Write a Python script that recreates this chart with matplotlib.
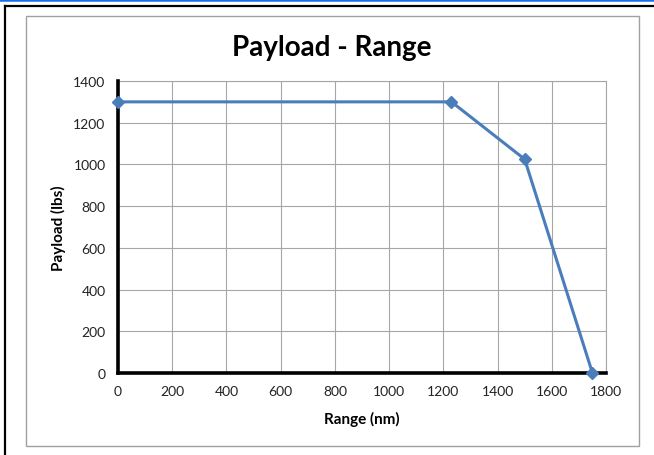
import matplotlib.pyplot as plt
from matplotlib.lines import Line2D
from matplotlib.patches import Rectangle

plt.rcParams["font.family"] = ["Lato", "DejaVu Sans"]

ranges = [0, 1230, 1500, 1750]  # nm
payloads = [1300, 1300, 1025, 0]  # lbs
x_ticks = [0, 200, 400, 600, 800, 1000, 1200, 1400, 1600, 1800]
y_ticks = [0, 200, 400, 600, 800, 1000, 1200, 1400]

W, H = 654, 456
fig = plt.figure(figsize=(W / 100, H / 100), dpi=100)
ax = fig.add_axes([118 / W, 1 - 374 / H, (606 - 118) / W, (374 - 82) / H])

# outer decorations: blue strip, black frame, grey chart frame
fig.add_artist(Line2D([0, 1], [1 - 1 / H, 1 - 1 / H], color="#1a6cf0", lw=1.8,
                      transform=fig.transFigure))
fig.add_artist(Line2D([5 / W, 1], [1 - 7 / H, 1 - 7 / H], color="black", lw=1.6,
                      transform=fig.transFigure))
fig.add_artist(Line2D([5 / W, 5 / W], [0, 1 - 7 / H], color="black", lw=1.6,
                      transform=fig.transFigure))
fig.add_artist(Rectangle((26 / W, 1 - 447 / H), (639 - 26) / W, (447 - 17) / H,
                         fill=False, edgecolor="#a0a0a0", lw=1.0,
                         transform=fig.transFigure))

ax.plot(ranges, payloads, color="#4a7ebb", lw=2.2, marker="D", markersize=6.5,
        clip_on=False, zorder=5)

ax.set_xlim(0, 1800)
ax.set_ylim(0, 1400)
ax.set_xticks(x_ticks)
ax.set_yticks(y_ticks)
ax.tick_params(length=0, labelsize=10, colors="#222222")
ax.tick_params(axis="y", pad=9)
ax.tick_params(axis="x", pad=9)
ax.grid(True, color="#a6a6a6", lw=0.8)
ax.set_axisbelow(True)

for side in ("left", "bottom"):
    ax.spines[side].set_linewidth(2.6)
    ax.spines[side].set_color("black")
    ax.spines[side].set_zorder(4)
for side in ("top", "right"):
    ax.spines[side].set_linewidth(0.8)
    ax.spines[side].set_color("#a6a6a6")

# title is centred on the chart frame, not the plot area
fig.text(332 / W, 1 - 48 / H, "Payload - Range", fontsize=20, fontweight="bold",
         ha="center", va="center")
ax.set_xlabel("Range (nm)", fontsize=11, fontweight="bold", labelpad=10)
ax.set_ylabel("Payload (lbs)", fontsize=11, fontweight="bold", labelpad=5)

fig.savefig("out.png", dpi=100)
